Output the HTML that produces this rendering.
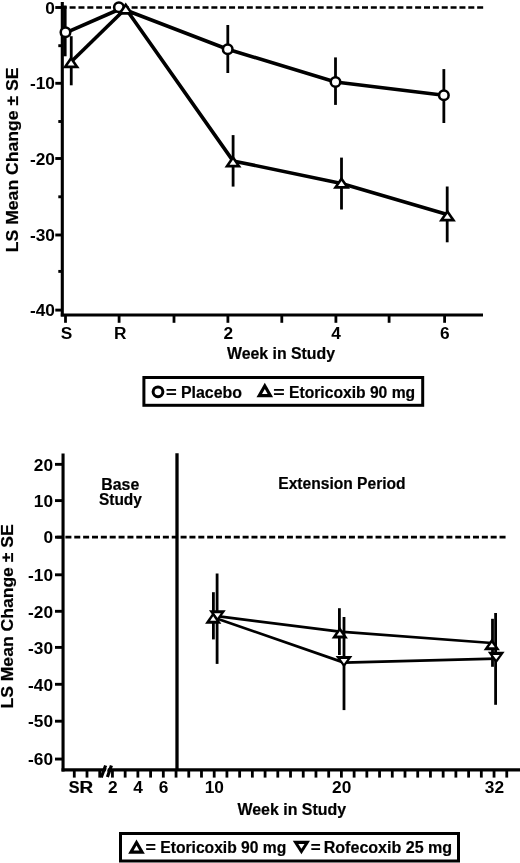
<!DOCTYPE html>
<html><head><meta charset="utf-8"><style>
html,body{margin:0;padding:0;background:#fff;}
svg{display:block;will-change:transform;}
</style></head><body>
<svg width="520" height="863" viewBox="0 0 520 863">
<rect width="520" height="863" fill="#fff"/>
<line x1="60.74" y1="7.50" x2="484" y2="7.50" stroke="#000" stroke-width="2.7" stroke-dasharray="6 2.86"/>
<line x1="62.30" y1="2.00" x2="62.30" y2="316.50" stroke="#000" stroke-width="3.1" />
<line x1="60.80" y1="315.00" x2="483.00" y2="315.00" stroke="#000" stroke-width="3.1" />
<line x1="55.30" y1="7.50" x2="62.30" y2="7.50" stroke="#000" stroke-width="2.9" />
<line x1="55.30" y1="83.30" x2="62.30" y2="83.30" stroke="#000" stroke-width="2.9" />
<line x1="55.30" y1="158.50" x2="62.30" y2="158.50" stroke="#000" stroke-width="2.9" />
<line x1="55.30" y1="235.00" x2="62.30" y2="235.00" stroke="#000" stroke-width="2.9" />
<line x1="55.30" y1="310.10" x2="62.30" y2="310.10" stroke="#000" stroke-width="2.9" />
<line x1="58.30" y1="45.70" x2="62.30" y2="45.70" stroke="#000" stroke-width="2.9" />
<line x1="58.30" y1="121.50" x2="62.30" y2="121.50" stroke="#000" stroke-width="2.9" />
<line x1="58.30" y1="196.80" x2="62.30" y2="196.80" stroke="#000" stroke-width="2.9" />
<line x1="58.30" y1="271.40" x2="62.30" y2="271.40" stroke="#000" stroke-width="2.9" />
<line x1="65.50" y1="315.00" x2="65.50" y2="322.80" stroke="#000" stroke-width="2.8" />
<line x1="119.10" y1="315.00" x2="119.10" y2="322.80" stroke="#000" stroke-width="2.8" />
<line x1="174.00" y1="315.00" x2="174.00" y2="322.80" stroke="#000" stroke-width="2.8" />
<line x1="227.90" y1="315.00" x2="227.90" y2="322.80" stroke="#000" stroke-width="2.8" />
<line x1="281.80" y1="315.00" x2="281.80" y2="322.80" stroke="#000" stroke-width="2.8" />
<line x1="335.90" y1="315.00" x2="335.90" y2="322.80" stroke="#000" stroke-width="2.8" />
<line x1="389.10" y1="315.00" x2="389.10" y2="322.80" stroke="#000" stroke-width="2.8" />
<line x1="444.60" y1="315.00" x2="444.60" y2="322.80" stroke="#000" stroke-width="2.8" />
<text x="45.30" y="13.50" font-size="16.0" textLength="9.61" lengthAdjust="spacingAndGlyphs" font-family="Liberation Sans, sans-serif" font-weight="bold">0</text>
<text x="29.93" y="89.30" font-size="16.0" textLength="24.98" lengthAdjust="spacingAndGlyphs" font-family="Liberation Sans, sans-serif" font-weight="bold">-10</text>
<text x="29.93" y="164.50" font-size="16.0" textLength="24.98" lengthAdjust="spacingAndGlyphs" font-family="Liberation Sans, sans-serif" font-weight="bold">-20</text>
<text x="29.93" y="241.00" font-size="16.0" textLength="24.98" lengthAdjust="spacingAndGlyphs" font-family="Liberation Sans, sans-serif" font-weight="bold">-30</text>
<text x="29.93" y="316.10" font-size="16.0" textLength="24.98" lengthAdjust="spacingAndGlyphs" font-family="Liberation Sans, sans-serif" font-weight="bold">-40</text>
<text x="60.73" y="339.00" font-size="16.0" textLength="11.53" lengthAdjust="spacingAndGlyphs" font-family="Liberation Sans, sans-serif" font-weight="bold">S</text>
<text x="113.96" y="339.00" font-size="16.0" textLength="12.48" lengthAdjust="spacingAndGlyphs" font-family="Liberation Sans, sans-serif" font-weight="bold">R</text>
<text x="223.44" y="339.00" font-size="16.0" textLength="9.61" lengthAdjust="spacingAndGlyphs" font-family="Liberation Sans, sans-serif" font-weight="bold">2</text>
<text x="331.31" y="339.00" font-size="16.0" textLength="9.61" lengthAdjust="spacingAndGlyphs" font-family="Liberation Sans, sans-serif" font-weight="bold">4</text>
<text x="440.09" y="339.00" font-size="16.0" textLength="9.61" lengthAdjust="spacingAndGlyphs" font-family="Liberation Sans, sans-serif" font-weight="bold">6</text>
<text x="226.98" y="358.70" font-size="16.0" textLength="108.10" lengthAdjust="spacingAndGlyphs" font-family="Liberation Sans, sans-serif" font-weight="bold" stroke="#000" stroke-width="0.2">Week in Study</text>
<text transform="translate(17.60,252.18) rotate(-90)" x="0" y="0" font-size="16.0" textLength="184.56" lengthAdjust="spacingAndGlyphs" font-family="Liberation Sans, sans-serif" font-weight="bold" stroke="#000" stroke-width="0.2">LS Mean Change &#177; SE</text>
<line x1="64.90" y1="5.50" x2="64.90" y2="56.30" stroke="#000" stroke-width="3.4" />
<line x1="227.80" y1="25.00" x2="227.80" y2="73.00" stroke="#000" stroke-width="2.8" />
<line x1="335.50" y1="57.40" x2="335.50" y2="104.90" stroke="#000" stroke-width="2.8" />
<line x1="443.85" y1="69.10" x2="443.85" y2="123.00" stroke="#000" stroke-width="2.8" />
<line x1="71.25" y1="36.20" x2="71.25" y2="85.30" stroke="#000" stroke-width="2.8" />
<line x1="233.10" y1="135.10" x2="233.10" y2="186.60" stroke="#000" stroke-width="2.8" />
<line x1="341.50" y1="157.60" x2="341.50" y2="209.50" stroke="#000" stroke-width="2.8" />
<line x1="447.20" y1="186.50" x2="447.20" y2="242.30" stroke="#000" stroke-width="2.8" />
<polyline points="65.50,32.90 118.90,9.50" fill="none" stroke="#000" stroke-width="3.6" stroke-linejoin="round"/>
<polyline points="118.90,7.50 227.70,49.20 335.50,82.00 443.85,95.25" fill="none" stroke="#000" stroke-width="3.6" stroke-linejoin="round"/>
<polyline points="72.20,60.75 125.20,9.00" fill="none" stroke="#000" stroke-width="3.6" stroke-linejoin="round"/>
<polyline points="125.70,8.50 233.00,160.90 341.50,183.50 447.30,214.40" fill="none" stroke="#000" stroke-width="3.6" stroke-linejoin="round"/>
<circle cx="65.50" cy="32.30" r="4.775" fill="#fff" stroke="#000" stroke-width="2.550"/>
<circle cx="118.90" cy="7.30" r="4.775" fill="#fff" stroke="#000" stroke-width="2.550"/>
<circle cx="227.70" cy="49.20" r="4.775" fill="#fff" stroke="#000" stroke-width="2.550"/>
<circle cx="335.50" cy="82.00" r="4.775" fill="#fff" stroke="#000" stroke-width="2.550"/>
<circle cx="443.85" cy="95.25" r="4.775" fill="#fff" stroke="#000" stroke-width="2.550"/>
<polygon points="71.10,56.00 79.60,68.30 62.60,68.30" fill="#000"/>
<polygon points="71.10,60.60 74.56,65.60 67.64,65.60" fill="#fff"/>
<polygon points="125.70,2.50 134.20,14.80 117.20,14.80" fill="#000"/>
<polygon points="125.70,7.10 129.16,12.10 122.24,12.10" fill="#fff"/>
<polygon points="233.00,155.20 241.50,167.50 224.50,167.50" fill="#000"/>
<polygon points="233.00,159.80 236.46,164.80 229.54,164.80" fill="#fff"/>
<polygon points="341.50,176.50 350.00,188.80 333.00,188.80" fill="#000"/>
<polygon points="341.50,181.10 344.96,186.10 338.04,186.10" fill="#fff"/>
<polygon points="447.40,209.20 455.90,221.50 438.90,221.50" fill="#000"/>
<polygon points="447.40,213.80 450.86,218.80 443.94,218.80" fill="#fff"/>
<rect x="143.9" y="377.5" width="278.8" height="27.8" fill="none" stroke="#000" stroke-width="3"/>
<circle cx="158.00" cy="391.80" r="4.900" fill="#fff" stroke="#000" stroke-width="3.000"/>
<text x="166.04" y="397.50" font-size="16.0" textLength="10.71" lengthAdjust="spacingAndGlyphs" font-family="Liberation Sans, sans-serif" font-weight="bold" stroke="#000" stroke-width="0.2">=</text>
<text x="180.94" y="397.50" font-size="16.0" textLength="60.98" lengthAdjust="spacingAndGlyphs" font-family="Liberation Sans, sans-serif" font-weight="bold" stroke="#000" stroke-width="0.2">Placebo</text>
<polygon points="264.80,382.80 273.10,397.30 256.50,397.30" fill="#000"/>
<polygon points="264.80,389.00 267.60,393.90 262.00,393.90" fill="#fff"/>
<text x="273.39" y="397.50" font-size="16.0" textLength="11.41" lengthAdjust="spacingAndGlyphs" font-family="Liberation Sans, sans-serif" font-weight="bold" stroke="#000" stroke-width="0.2">=</text>
<text x="289.05" y="397.50" font-size="16.0" textLength="126.09" lengthAdjust="spacingAndGlyphs" font-family="Liberation Sans, sans-serif" font-weight="bold" stroke="#000" stroke-width="0.2">Etoricoxib 90 mg</text>
<line x1="56.55" y1="537.20" x2="506.5" y2="537.20" stroke="#000" stroke-width="2.7" stroke-dasharray="6 2.86"/>
<line x1="63.05" y1="453.50" x2="63.05" y2="771.40" stroke="#000" stroke-width="3.1" />
<line x1="61.55" y1="769.90" x2="520.00" y2="769.90" stroke="#000" stroke-width="3.1" />
<line x1="177.00" y1="453.30" x2="177.00" y2="769.90" stroke="#000" stroke-width="3.3" />
<line x1="55.00" y1="464.35" x2="63.05" y2="464.35" stroke="#000" stroke-width="2.9" />
<text x="33.79" y="470.55" font-size="16.0" textLength="19.22" lengthAdjust="spacingAndGlyphs" font-family="Liberation Sans, sans-serif" font-weight="bold">20</text>
<line x1="55.00" y1="500.60" x2="63.05" y2="500.60" stroke="#000" stroke-width="2.9" />
<text x="33.79" y="506.80" font-size="16.0" textLength="19.22" lengthAdjust="spacingAndGlyphs" font-family="Liberation Sans, sans-serif" font-weight="bold">10</text>
<line x1="55.00" y1="537.20" x2="63.05" y2="537.20" stroke="#000" stroke-width="2.9" />
<text x="43.40" y="543.40" font-size="16.0" textLength="9.61" lengthAdjust="spacingAndGlyphs" font-family="Liberation Sans, sans-serif" font-weight="bold">0</text>
<line x1="55.00" y1="574.80" x2="63.05" y2="574.80" stroke="#000" stroke-width="2.9" />
<text x="28.03" y="581.00" font-size="16.0" textLength="24.98" lengthAdjust="spacingAndGlyphs" font-family="Liberation Sans, sans-serif" font-weight="bold">-10</text>
<line x1="55.00" y1="611.30" x2="63.05" y2="611.30" stroke="#000" stroke-width="2.9" />
<text x="28.03" y="617.50" font-size="16.0" textLength="24.98" lengthAdjust="spacingAndGlyphs" font-family="Liberation Sans, sans-serif" font-weight="bold">-20</text>
<line x1="55.00" y1="647.40" x2="63.05" y2="647.40" stroke="#000" stroke-width="2.9" />
<text x="28.03" y="653.60" font-size="16.0" textLength="24.98" lengthAdjust="spacingAndGlyphs" font-family="Liberation Sans, sans-serif" font-weight="bold">-30</text>
<line x1="55.00" y1="684.30" x2="63.05" y2="684.30" stroke="#000" stroke-width="2.9" />
<text x="28.03" y="690.50" font-size="16.0" textLength="24.98" lengthAdjust="spacingAndGlyphs" font-family="Liberation Sans, sans-serif" font-weight="bold">-40</text>
<line x1="55.00" y1="721.20" x2="63.05" y2="721.20" stroke="#000" stroke-width="2.9" />
<text x="28.03" y="727.40" font-size="16.0" textLength="24.98" lengthAdjust="spacingAndGlyphs" font-family="Liberation Sans, sans-serif" font-weight="bold">-50</text>
<line x1="55.00" y1="759.05" x2="63.05" y2="759.05" stroke="#000" stroke-width="2.9" />
<text x="28.03" y="765.25" font-size="16.0" textLength="24.98" lengthAdjust="spacingAndGlyphs" font-family="Liberation Sans, sans-serif" font-weight="bold">-60</text>
<line x1="74.28" y1="769.90" x2="74.28" y2="777.60" stroke="#000" stroke-width="2.8" />
<line x1="87.00" y1="769.90" x2="87.00" y2="777.60" stroke="#000" stroke-width="2.8" />
<line x1="99.72" y1="769.90" x2="99.72" y2="777.60" stroke="#000" stroke-width="2.8" />
<line x1="112.44" y1="769.90" x2="112.44" y2="777.60" stroke="#000" stroke-width="2.8" />
<line x1="125.16" y1="769.90" x2="125.16" y2="777.60" stroke="#000" stroke-width="2.8" />
<line x1="137.88" y1="769.90" x2="137.88" y2="777.60" stroke="#000" stroke-width="2.8" />
<line x1="150.60" y1="769.90" x2="150.60" y2="777.60" stroke="#000" stroke-width="2.8" />
<line x1="163.32" y1="769.90" x2="163.32" y2="777.60" stroke="#000" stroke-width="2.8" />
<line x1="176.04" y1="769.90" x2="176.04" y2="777.60" stroke="#000" stroke-width="2.8" />
<line x1="188.76" y1="769.90" x2="188.76" y2="777.60" stroke="#000" stroke-width="2.8" />
<line x1="201.48" y1="769.90" x2="201.48" y2="777.60" stroke="#000" stroke-width="2.8" />
<line x1="214.20" y1="769.90" x2="214.20" y2="777.60" stroke="#000" stroke-width="2.8" />
<line x1="226.92" y1="769.90" x2="226.92" y2="777.60" stroke="#000" stroke-width="2.8" />
<line x1="239.64" y1="769.90" x2="239.64" y2="777.60" stroke="#000" stroke-width="2.8" />
<line x1="252.36" y1="769.90" x2="252.36" y2="777.60" stroke="#000" stroke-width="2.8" />
<line x1="265.08" y1="769.90" x2="265.08" y2="777.60" stroke="#000" stroke-width="2.8" />
<line x1="277.80" y1="769.90" x2="277.80" y2="777.60" stroke="#000" stroke-width="2.8" />
<line x1="290.52" y1="769.90" x2="290.52" y2="777.60" stroke="#000" stroke-width="2.8" />
<line x1="303.24" y1="769.90" x2="303.24" y2="777.60" stroke="#000" stroke-width="2.8" />
<line x1="315.96" y1="769.90" x2="315.96" y2="777.60" stroke="#000" stroke-width="2.8" />
<line x1="328.68" y1="769.90" x2="328.68" y2="777.60" stroke="#000" stroke-width="2.8" />
<line x1="341.40" y1="769.90" x2="341.40" y2="777.60" stroke="#000" stroke-width="2.8" />
<line x1="354.12" y1="769.90" x2="354.12" y2="777.60" stroke="#000" stroke-width="2.8" />
<line x1="366.84" y1="769.90" x2="366.84" y2="777.60" stroke="#000" stroke-width="2.8" />
<line x1="379.56" y1="769.90" x2="379.56" y2="777.60" stroke="#000" stroke-width="2.8" />
<line x1="392.28" y1="769.90" x2="392.28" y2="777.60" stroke="#000" stroke-width="2.8" />
<line x1="405.00" y1="769.90" x2="405.00" y2="777.60" stroke="#000" stroke-width="2.8" />
<line x1="417.72" y1="769.90" x2="417.72" y2="777.60" stroke="#000" stroke-width="2.8" />
<line x1="430.44" y1="769.90" x2="430.44" y2="777.60" stroke="#000" stroke-width="2.8" />
<line x1="443.16" y1="769.90" x2="443.16" y2="777.60" stroke="#000" stroke-width="2.8" />
<line x1="455.88" y1="769.90" x2="455.88" y2="777.60" stroke="#000" stroke-width="2.8" />
<line x1="468.60" y1="769.90" x2="468.60" y2="777.60" stroke="#000" stroke-width="2.8" />
<line x1="481.32" y1="769.90" x2="481.32" y2="777.60" stroke="#000" stroke-width="2.8" />
<line x1="494.04" y1="769.90" x2="494.04" y2="777.60" stroke="#000" stroke-width="2.8" />
<line x1="506.76" y1="769.90" x2="506.76" y2="777.60" stroke="#000" stroke-width="2.8" />
<text x="68.73" y="793.00" font-size="16.0" textLength="10.80" lengthAdjust="spacingAndGlyphs" font-family="Liberation Sans, sans-serif" font-weight="bold" stroke="#000" stroke-width="0.2">S</text>
<text x="79.54" y="793.00" font-size="16.0" textLength="13.65" lengthAdjust="spacingAndGlyphs" font-family="Liberation Sans, sans-serif" font-weight="bold" stroke="#000" stroke-width="0.2">R</text>
<text x="107.98" y="793.00" font-size="16.0" textLength="9.61" lengthAdjust="spacingAndGlyphs" font-family="Liberation Sans, sans-serif" font-weight="bold">2</text>
<text x="133.29" y="793.00" font-size="16.0" textLength="9.61" lengthAdjust="spacingAndGlyphs" font-family="Liberation Sans, sans-serif" font-weight="bold">4</text>
<text x="158.81" y="793.00" font-size="16.0" textLength="9.61" lengthAdjust="spacingAndGlyphs" font-family="Liberation Sans, sans-serif" font-weight="bold">6</text>
<text x="204.70" y="793.00" font-size="16.0" textLength="19.22" lengthAdjust="spacingAndGlyphs" font-family="Liberation Sans, sans-serif" font-weight="bold">10</text>
<text x="332.14" y="793.00" font-size="16.0" textLength="19.22" lengthAdjust="spacingAndGlyphs" font-family="Liberation Sans, sans-serif" font-weight="bold">20</text>
<text x="484.88" y="793.00" font-size="16.0" textLength="19.22" lengthAdjust="spacingAndGlyphs" font-family="Liberation Sans, sans-serif" font-weight="bold">32</text>
<line x1="101.20" y1="777.50" x2="105.60" y2="765.50" stroke="#000" stroke-width="3.2" />
<line x1="107.40" y1="777.00" x2="111.40" y2="765.50" stroke="#000" stroke-width="3.2" />
<line x1="105.00" y1="775.50" x2="107.60" y2="767.50" stroke="#fff" stroke-width="1.2" />
<text x="237.48" y="814.80" font-size="16.0" textLength="108.60" lengthAdjust="spacingAndGlyphs" font-family="Liberation Sans, sans-serif" font-weight="bold" stroke="#000" stroke-width="0.2">Week in Study</text>
<text transform="translate(13.00,708.57) rotate(-90)" x="0" y="0" font-size="16.0" textLength="184.26" lengthAdjust="spacingAndGlyphs" font-family="Liberation Sans, sans-serif" font-weight="bold" stroke="#000" stroke-width="0.2">LS Mean Change &#177; SE</text>
<text x="101.34" y="489.50" font-size="16.0" textLength="37.90" lengthAdjust="spacingAndGlyphs" font-family="Liberation Sans, sans-serif" font-weight="bold" stroke="#000" stroke-width="0.2">Base</text>
<text x="98.95" y="504.70" font-size="16.0" textLength="42.93" lengthAdjust="spacingAndGlyphs" font-family="Liberation Sans, sans-serif" font-weight="bold" stroke="#000" stroke-width="0.2">Study</text>
<text x="278.26" y="488.80" font-size="16.0" textLength="127.37" lengthAdjust="spacingAndGlyphs" font-family="Liberation Sans, sans-serif" font-weight="bold" stroke="#000" stroke-width="0.2">Extension Period</text>
<line x1="213.40" y1="592.20" x2="213.40" y2="639.40" stroke="#000" stroke-width="2.8" />
<line x1="339.40" y1="608.20" x2="339.40" y2="655.00" stroke="#000" stroke-width="2.8" />
<line x1="492.50" y1="618.80" x2="492.50" y2="666.80" stroke="#000" stroke-width="2.8" />
<line x1="217.10" y1="573.50" x2="217.10" y2="663.90" stroke="#000" stroke-width="2.8" />
<line x1="344.00" y1="617.00" x2="344.00" y2="710.10" stroke="#000" stroke-width="2.8" />
<line x1="495.60" y1="613.00" x2="495.60" y2="704.80" stroke="#000" stroke-width="2.8" />
<polyline points="213.20,615.70 339.80,631.60 491.80,643.00" fill="none" stroke="#000" stroke-width="2.75" stroke-linejoin="round"/>
<polyline points="217.35,618.70 344.00,662.60 496.20,658.65" fill="none" stroke="#000" stroke-width="2.75" stroke-linejoin="round"/>
<polygon points="217.35,621.80 225.75,610.20 208.95,610.20" fill="#000"/>
<polygon points="217.35,618.00 220.75,613.30 213.95,613.30" fill="#fff"/>
<polygon points="344.00,667.60 352.40,656.00 335.60,656.00" fill="#000"/>
<polygon points="344.00,663.80 347.40,659.10 340.60,659.10" fill="#fff"/>
<polygon points="496.20,663.40 504.60,651.80 487.80,651.80" fill="#000"/>
<polygon points="496.20,659.60 499.60,654.90 492.80,654.90" fill="#fff"/>
<polygon points="213.20,611.90 221.35,623.70 205.05,623.70" fill="#000"/>
<polygon points="213.20,616.30 216.24,620.70 210.16,620.70" fill="#fff"/>
<polygon points="339.80,626.80 347.95,638.60 331.65,638.60" fill="#000"/>
<polygon points="339.80,631.20 342.84,635.60 336.76,635.60" fill="#fff"/>
<polygon points="491.80,638.50 499.95,650.30 483.65,650.30" fill="#000"/>
<polygon points="491.80,642.90 494.84,647.30 488.76,647.30" fill="#fff"/>
<rect x="120.5" y="833.5" width="338" height="27.5" fill="none" stroke="#000" stroke-width="3"/>
<polygon points="136.50,839.40 144.80,853.70 128.20,853.70" fill="#000"/>
<polygon points="136.50,845.50 139.40,850.50 133.60,850.50" fill="#fff"/>
<text x="145.56" y="853.30" font-size="16.0" textLength="10.36" lengthAdjust="spacingAndGlyphs" font-family="Liberation Sans, sans-serif" font-weight="bold" stroke="#000" stroke-width="0.2">=</text>
<text x="160.25" y="853.30" font-size="16.0" textLength="126.09" lengthAdjust="spacingAndGlyphs" font-family="Liberation Sans, sans-serif" font-weight="bold" stroke="#000" stroke-width="0.2">Etoricoxib 90 mg</text>
<polygon points="301.40,854.30 310.00,840.70 292.80,840.70" fill="#000"/>
<polygon points="301.40,848.80 304.50,843.90 298.30,843.90" fill="#fff"/>
<text x="310.80" y="853.30" font-size="16.0" textLength="9.90" lengthAdjust="spacingAndGlyphs" font-family="Liberation Sans, sans-serif" font-weight="bold" stroke="#000" stroke-width="0.2">=</text>
<text x="323.73" y="853.30" font-size="16.0" textLength="128.45" lengthAdjust="spacingAndGlyphs" font-family="Liberation Sans, sans-serif" font-weight="bold" stroke="#000" stroke-width="0.2">Rofecoxib 25 mg</text>
</svg>
</body></html>
